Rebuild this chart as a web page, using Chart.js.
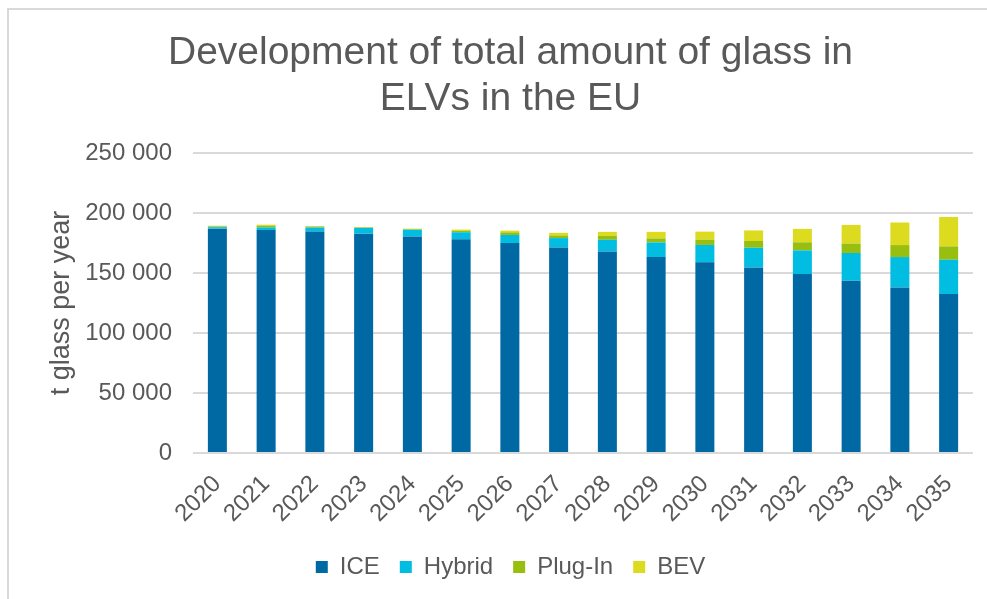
<!DOCTYPE html>
<html>
<head>
<meta charset="utf-8">
<script src="https://cdn.jsdelivr.net/npm/chart.js@4"></script>
<style>
  body { margin: 0; background: #fff; overflow: hidden; }
  #wrap { position: relative; width: 987px; height: 599px; overflow: hidden; }
  #frame { position: absolute; left: 7px; top: 8px; right: -10px; bottom: -10px;
           border-top: 2px solid #d9d9d9; border-left: 2px solid #d9d9d9; }
  #chart { position: absolute; left: 0; top: 0; }
</style>
</head>
<body>
<div id="wrap">
  <div id="frame"></div>
  <canvas id="chart" width="987" height="599"></canvas>
</div>
<script>
// values, tonnes of glass per year
var years = ['2020', '2021', '2022', '2023', '2024', '2025', '2026', '2027',
             '2028', '2029', '2030', '2031', '2032', '2033', '2034', '2035'];
var ice    = [187000, 185800, 184600, 182800, 180500, 178200, 175000, 171300,
              168000, 163300, 158900, 154700, 149200, 143600, 138000, 132500];
var hybrid = [1200, 2200, 3300, 4700, 5500, 5800, 6700, 7800,
              9700, 12200, 14500, 16400, 19700, 23100, 25300, 28600];
var plugIn = [700, 1300, 800, 500, 500, 1100, 2200, 2200,
              3300, 3300, 4400, 5600, 6700, 7800, 10000, 11100];
var bev    = [500, 1000, 500, 300, 500, 1100, 1400, 2200,
              3300, 5500, 6700, 8800, 11200, 15600, 18800, 24500];
var yTicks = [0, 50000, 100000, 150000, 200000, 250000];

var grey = '#595959';
Chart.defaults.font.family = '"Liberation Sans", Arial, sans-serif';
Chart.defaults.color = grey;

function spaced(v) {
    return String(v).replace(/\B(?=(\d{3})+(?!\d))/g, ' ');
}

var config = {
    type: 'bar',
    data: {
        labels: years,
        datasets: [
            { label: 'ICE', data: ice, backgroundColor: '#0069a4' },
            { label: 'Hybrid', data: hybrid, backgroundColor: '#00bde1' },
            { label: 'Plug-In', data: plugIn, backgroundColor: '#98bf10' },
            { label: 'BEV', data: bev, backgroundColor: '#dddb1f' }
        ]
    },
    options: {
        responsive: false,
        animation: false,
        devicePixelRatio: 1,
        layout: { padding: { left: 48, right: 14, top: 0, bottom: 10 } },
        datasets: { bar: { categoryPercentage: 1, barPercentage: 0.39, borderWidth: 0 } },
        plugins: {
            title: {
                display: true,
                text: ['Development of total amount of glass in', 'ELVs in the EU'],
                color: grey,
                font: { size: 39, weight: 'normal', lineHeight: 1.18 },
                padding: { top: 30, bottom: 31 }
            },
            legend: {
                position: 'bottom',
                labels: {
                    color: grey,
                    font: { size: 24 },
                    boxWidth: 12,
                    boxHeight: 12,
                    padding: 20
                }
            },
            tooltip: { enabled: false }
        },
        scales: {
            x: {
                stacked: true,
                grid: { display: false },
                border: { display: false },
                ticks: {
                    autoSkip: false,
                    minRotation: 45,
                    maxRotation: 45,
                    padding: 9,
                    color: grey,
                    font: { size: 24 }
                },
                afterFit: function (scale) { scale.height = 82; }
            },
            y: {
                stacked: true,
                min: 0,
                max: 250000,
                afterBuildTicks: function (scale) {
                    scale.ticks = yTicks.map(function (v) { return { value: v }; });
                },
                grid: { color: '#d9d9d9', lineWidth: 2, drawTicks: false },
                border: { display: false },
                ticks: {
                    padding: 21,
                    color: grey,
                    font: { size: 24 },
                    callback: function (v) { return spaced(v); }
                },
                title: {
                    display: true,
                    text: 't glass per year',
                    color: grey,
                    font: { size: 27, lineHeight: 1 },
                    padding: { top: 0, bottom: 0 }
                },
                afterFit: function (scale) { scale.width = 193 - 48; }
            }
        }
    }
};

var ctx = document.getElementById('chart').getContext('2d');
window.myBar = new Chart(ctx, config);
</script>
</body>
</html>
